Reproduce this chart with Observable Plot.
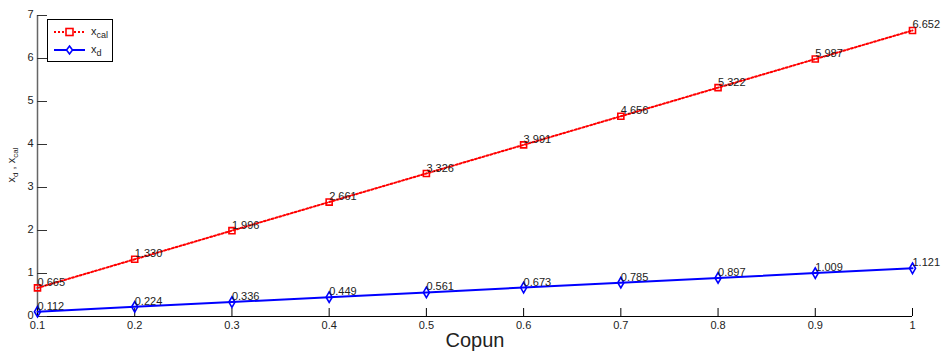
<!DOCTYPE html>
<html>
<head>
<meta charset="utf-8">
<script src="https://cdn.jsdelivr.net/npm/d3@7"></script>
<script src="https://cdn.jsdelivr.net/npm/@observablehq/plot@0.6"></script>
<style>
  html, body { margin: 0; padding: 0; background: #fff; }
  #wrap { position: relative; width: 941px; height: 356px; font-family: "Liberation Sans", Arial, sans-serif; }
  #legend { position: absolute; left: 47px; top: 19px; width: 66px; height: 43px; border: 1px solid #000; background: #fff; box-sizing: border-box; }
  #legend .row { position: absolute; left: 5px; height: 16px; display: flex; align-items: center; font-size: 11px; color: #222; }
  #legend .row svg { margin-right: 5px; }
  #legend sub { font-size: 9px; vertical-align: -3px; }
  #ylabel { position: absolute; left: 12px; top: 165px; transform: translate(-50%, -50%) rotate(-90deg); font-size: 11px; color: #222; white-space: nowrap; }
  #ylabel sub { font-size: 8px; vertical-align: -3px; }
</style>
</head>
<body>
<div id="wrap"></div>
<script>
// Copun values and the two computed series
const copun = [0.1, 0.2, 0.3, 0.4, 0.5, 0.6, 0.7, 0.8, 0.9, 1.0];
const xCal = [0.665, 1.330, 1.996, 2.661, 3.326, 3.991, 4.656, 5.322, 5.987, 6.652];
const xD = [0.112, 0.224, 0.336, 0.449, 0.561, 0.673, 0.785, 0.897, 1.009, 1.121];
const xTicks = [0.1, 0.2, 0.3, 0.4, 0.5, 0.6, 0.7, 0.8, 0.9, 1];
const yTicks = [0, 1, 2, 3, 4, 5, 6, 7];

const calRows = copun.map((c, i) => ({c, v: xCal[i]}));
const dRows = copun.map((c, i) => ({c, v: xD[i]}));

const W = 941, H = 356;
const mL = 37, mR = 29, mT = 15, mB = 40;
const plotW = W - mL - mR, plotH = H - mT - mB;

const chart = Plot.plot({
  width: W, height: H,
  marginLeft: mL, marginRight: mR, marginTop: mT, marginBottom: mB,
  style: {fontFamily: "'Liberation Sans', Arial, sans-serif", fontSize: "11px", color: "#222", background: "#fff"},
  x: {domain: [0.1, 1], axis: null},
  y: {domain: [0, 7], axis: null},
  marks: [
    // axes lines
    Plot.ruleX([0.1], {y1: 0, y2: 7, stroke: "#666", strokeWidth: 1.5}),
    Plot.ruleY([0], {x1: 0.1, x2: 1, stroke: "#000", strokeWidth: 1.2}),
    // inward tick marks
    Plot.tickY(yTicks, {y: d => d, insetRight: plotW - 10, stroke: "#333"}),
    Plot.tickX(xTicks, {x: d => d, insetTop: plotH - 8, stroke: "#000"}),
    // tick labels
    Plot.axisY({ticks: yTicks, tickSize: 0, tickPadding: 4, fontSize: 11, label: null, tickFormat: d => String(d), dy: -1}),
    Plot.axisX({ticks: xTicks, tickSize: 0, tickPadding: 5, fontSize: 11, label: null, tickFormat: d => String(d)}),
    Plot.text(["Copun"], {frameAnchor: "bottom", dy: 30, fontSize: 20, fill: "#222"}),
    // x_cal series
    Plot.line(calRows, {x: "c", y: "v", stroke: "#ff0000", strokeWidth: 2, strokeDasharray: "2,2"}),
    Plot.dot(calRows, {x: "c", y: "v", symbol: "square", r: 3.4, stroke: "#ff0000", strokeWidth: 1.6, fill: "none"}),
    Plot.text(calRows, {x: "c", y: "v", text: d => d.v.toFixed(3), textAnchor: "start", dy: -5.5, fill: "#222", fontSize: 11}),
    // x_d series
    Plot.line(dRows, {x: "c", y: "v", stroke: "#0000ff", strokeWidth: 2}),
    Plot.dot(dRows, {x: "c", y: "v", symbol: "diamond", r: 3.2, stroke: "#0000ff", strokeWidth: 1.6, fill: "none"}),
    Plot.text(dRows, {x: "c", y: "v", text: d => d.v.toFixed(3), textAnchor: "start", dy: -5.5, fill: "#222", fontSize: 11})
  ]
});

const wrap = document.getElementById("wrap");
wrap.appendChild(chart);

const legend = document.createElement("div");
legend.id = "legend";
legend.innerHTML = `
  <div class="row" style="top:4px">
    <svg width="33" height="12"><line x1="1" y1="6" x2="32" y2="6" stroke="#ff0000" stroke-width="2" stroke-dasharray="2,2"/><rect x="13" y="2.5" width="7" height="7" fill="#fff" stroke="#ff0000" stroke-width="1.6"/></svg>
    <span>x<sub>cal</sub></span>
  </div>
  <div class="row" style="top:22px">
    <svg width="33" height="12"><line x1="1" y1="6" x2="32" y2="6" stroke="#0000ff" stroke-width="2"/><path d="M16.5,2 L19.5,6 L16.5,10 L13.5,6 Z" fill="#fff" stroke="#0000ff" stroke-width="1.6"/></svg>
    <span>x<sub>d</sub></span>
  </div>`;
wrap.appendChild(legend);

const ylab = document.createElement("div");
ylab.id = "ylabel";
ylab.innerHTML = "x<sub>d</sub> , x<sub>cal</sub>";
wrap.appendChild(ylab);
</script>
</body>
</html>
